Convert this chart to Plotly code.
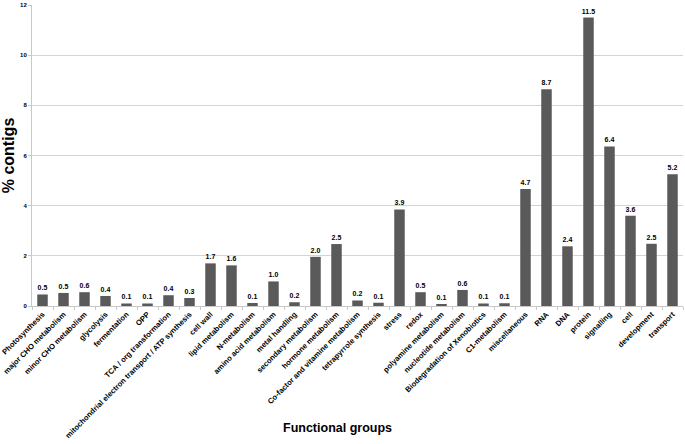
import plotly.graph_objects as go

# grupos funcionales y % de contigs
groups = [
    "Photosynthesis", "major CHO metabolism", "minor CHO metabolism", "glycolysis",
    "fermentation", "OPP", "TCA / org transformation",
    "mitochondrial electron transport / ATP synthesis", "cell wall", "lipid metabolism",
    "N-metabolism", "amino acid metabolism", "metal handling", "secondary metabolism",
    "hormone metabolism", "Co-factor and vitamine metabolism", "tetrapyrrole synthesis",
    "stress", "redox", "polyamine metabolism", "nucleotide metabolism",
    "Biodegradation of Xenobiotics", "C1-metabolism", "miscellaneous", "RNA", "DNA",
    "protein", "signalling", "cell", "development", "transport",
]
pct = [
    0.46, 0.52, 0.55, 0.40, 0.10, 0.10, 0.43, 0.32, 1.70, 1.62, 0.12, 0.98, 0.15,
    1.96, 2.47, 0.22, 0.13, 3.85, 0.55, 0.07, 0.64, 0.10, 0.11, 4.66, 8.64, 2.38,
    11.50, 6.36, 3.60, 2.48, 5.25,
]
pct_labels = [
    "0.5", "0.5", "0.6", "0.4", "0.1", "0.1", "0.4", "0.3", "1.7", "1.6", "0.1", "1.0",
    "0.2", "2.0", "2.5", "0.2", "0.1", "3.9", "0.5", "0.1", "0.6", "0.1", "0.1", "4.7",
    "8.7", "2.4", "11.5", "6.4", "3.6", "2.5", "5.2",
]
y_ticks = [0, 2, 4, 6, 8, 10, 12]

fig = go.Figure(go.Bar(
    x=groups,
    y=pct,
    text=pct_labels,
    textposition="outside",
    constraintext="none",
    cliponaxis=False,
    textfont=dict(size=7, color="black", family="Liberation Sans", weight="bold"),
    marker=dict(color="#5a5a5a", line=dict(width=0)),
))

fig.update_layout(
    width=685, height=444,
    margin=dict(l=32, r=2, t=5, b=138),
    plot_bgcolor="white", paper_bgcolor="white",
    bargap=0.5,
    showlegend=False,
    font=dict(family="Liberation Sans", color="black"),
)
fig.update_xaxes(
    automargin=False,
    tickangle=-45,
    tickfont=dict(size=7.6, weight="bold"),
    showline=True, linecolor="#c8c8c8", linewidth=1,
    ticks="outside", ticklen=3, tickcolor="#c8c8c8", tickson="boundaries",
)
fig.update_yaxes(
    automargin=False,
    range=[0, 12],
    tickvals=y_ticks,
    tickfont=dict(size=6, weight="bold"),
    showgrid=True, gridcolor="#d4d4d4", gridwidth=1,
    showline=True, linecolor="#c8c8c8", linewidth=1,
    ticks="outside", ticklen=3, tickcolor="#c8c8c8",
    zeroline=False,
    title=dict(text="% contigs", font=dict(size=16, weight="bold"), standoff=4),
)
# titulo del eje x como anotación (las etiquetas rotadas ocupan mucho lugar)
fig.add_annotation(
    text="Functional groups", xref="paper", yref="paper", x=0.47, y=-0.435,
    showarrow=False, font=dict(size=12.5, weight="bold"),
)

# sin margen del body para que la figura quede en 685x444
fig.write_html(
    "out.html",
    config={"displayModeBar": False},
    post_script="document.body.style.margin='0';",
)
